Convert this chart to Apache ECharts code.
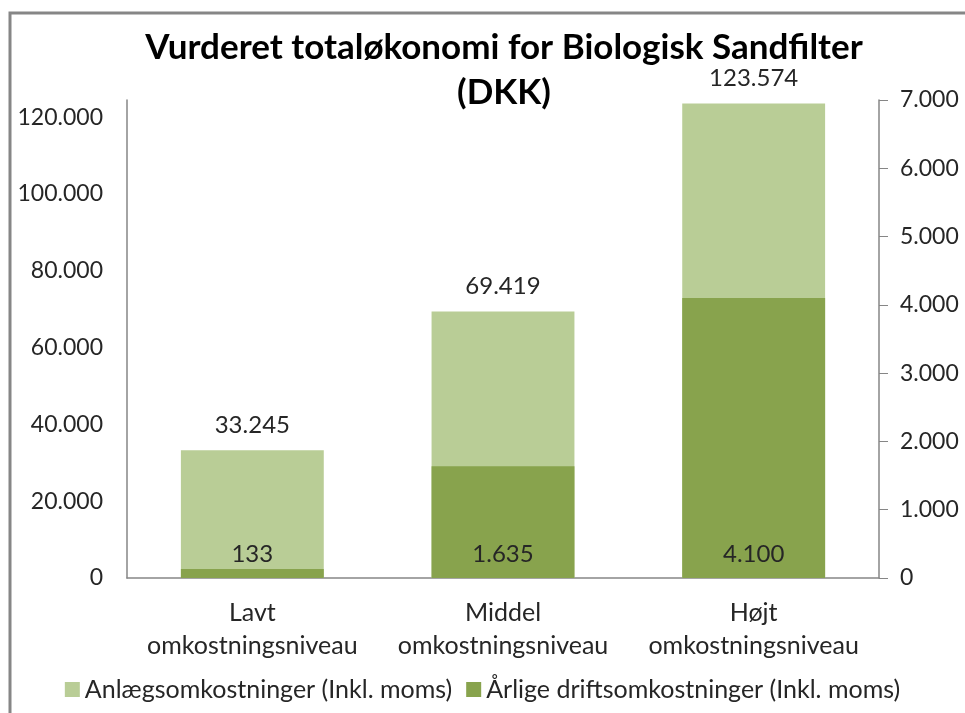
<!DOCTYPE html>
<html>
<head>
<meta charset="utf-8">
<script src="https://cdn.jsdelivr.net/npm/echarts@6/dist/echarts.min.js"></script>
<style>
  html, body { margin: 0; padding: 0; background: #fff; }
  #main { width: 965px; height: 713px; }
</style>
</head>
<body>
<div id="main"></div>
<script>
var categories = ["Lavt\nomkostningsniveau", "Middel\nomkostningsniveau", "Højt\nomkostningsniveau"];
var anlaeg = [33245, 69419, 123574];
var drift = [133, 1635, 4100];
var seriesNames = ["Anlægsomkostninger (Inkl. moms)", "Årlige driftsomkostninger (Inkl. moms)"];

// tusindtalsseparator med punktum
function fmt(v) {
  return String(Math.round(v)).replace(/\B(?=(\d{3})+(?!\d))/g, ".");
}

var font = "Lato, 'Open Sans', sans-serif";
var textColor = "#262626";
var axisColor = "#868686";

var myChart = echarts.init(document.getElementById("main"));
myChart.setOption({
  animation: false,
  title: {
    text: "Vurderet totaløkonomi for Biologisk Sandfilter\n(DKK)",
    left: 499,
    textAlign: "center",
    top: 20,
    textStyle: {
      fontFamily: font,
      fontSize: 35,
      fontWeight: "bold",
      color: "#000",
      lineHeight: 45
    }
  },
  legend: {
    bottom: 6,
    left: "center",
    itemWidth: 15,
    itemHeight: 15,
    itemGap: 14,
    icon: "rect",
    textStyle: { fontFamily: font, fontSize: 25, color: textColor },
    data: seriesNames
  },
  grid: { left: 127, right: 86, top: 100, bottom: 135 },
  xAxis: {
    type: "category",
    data: categories,
    axisLine: { lineStyle: { color: axisColor, width: 1.5 } },
    axisTick: { show: false },
    axisLabel: {
      interval: 0,
      fontFamily: font,
      fontSize: 25,
      color: textColor,
      lineHeight: 33,
      margin: 18
    }
  },
  yAxis: [
    {
      type: "value",
      min: 0,
      max: 124500,
      interval: 20000,
      axisLine: { show: true, lineStyle: { color: axisColor, width: 1.5 } },
      axisTick: { show: false },
      splitLine: { show: false },
      axisLabel: {
        fontFamily: font,
        fontSize: 23,
        color: textColor,
        margin: 24,
        showMaxLabel: false,
        formatter: fmt
      }
    },
    {
      type: "value",
      min: 0,
      max: 7000,
      interval: 1000,
      position: "right",
      axisLine: { show: true, lineStyle: { color: axisColor, width: 1.5 } },
      axisTick: { show: true, inside: false, length: 9, lineStyle: { color: axisColor } },
      splitLine: { show: false },
      axisLabel: {
        fontFamily: font,
        fontSize: 23,
        color: textColor,
        margin: 21,
        formatter: fmt
      }
    }
  ],
  series: [
    {
      name: seriesNames[0],
      type: "bar",
      yAxisIndex: 0,
      data: anlaeg,
      barWidth: "57%",
      barGap: "-100%",
      itemStyle: { color: "#B9CD96" },
      label: {
        show: true,
        position: "top",
        distance: 13,
        fontFamily: font,
        fontSize: 24,
        color: textColor,
        formatter: function (p) { return fmt(p.value); }
      }
    },
    {
      name: seriesNames[1],
      type: "bar",
      yAxisIndex: 1,
      data: drift,
      barWidth: "57%",
      barGap: "-100%",
      itemStyle: { color: "#88A34D" },
      label: {
        show: true,
        position: "insideBottom",
        distance: 12,
        fontFamily: font,
        fontSize: 24,
        color: textColor,
        formatter: function (p) { return fmt(p.value); }
      }
    }
  ],
  graphic: [
    {
      type: "polyline",
      silent: true,
      shape: { points: [[10, 720], [10, 13], [970, 13]] },
      style: { stroke: axisColor, lineWidth: 3, fill: null }
    }
  ]
});
</script>
</body>
</html>
